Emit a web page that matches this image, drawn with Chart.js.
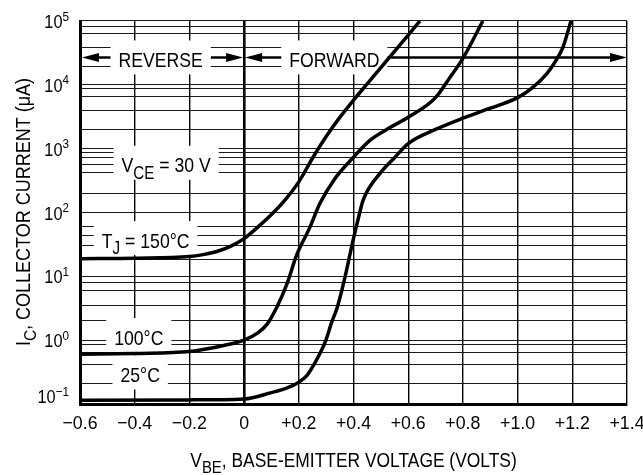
<!DOCTYPE html>
<html>
<head>
<meta charset="utf-8">
<script src="https://cdn.jsdelivr.net/npm/chart.js@4.4.1/dist/chart.umd.min.js"></script>
<style>
  html, body { margin: 0; padding: 0; background: #fff; }
  canvas { display: block; }
</style>
</head>
<body>
<canvas id="chartIC" width="643" height="475"></canvas>
<script>
const FONT = "'Liberation Sans', Arial, sans-serif"

// eje x (VBE, volts)
const xTicks      = [-0.6, -0.4, -0.2, 0, 0.2, 0.4, 0.6, 0.8, 1.0, 1.2, 1.4]
const xTickLabels = ['−0.6', '−0.4', '−0.2', '0', '+0.2', '+0.4', '+0.6', '+0.8', '+1.0', '+1.2', '+1.4']

// eje y (IC, uA) - log
const yDecades   = [0.1, 1, 10, 100, 1000, 10000, 100000]
const yExponents = ['−1', '0', '1', '2', '3', '4', '5']
const yGrid = [
  0.1, 0.21, 0.41, 0.63, 0.86,
  1, 2, 3.5, 6, 8,
  10, 18, 30, 43, 60,
  100, 200, 415, 570, 720, 880,
  1000, 2000, 4000, 6500, 8700,
  10000, 19000, 39000, 63000, 83000,
  100000,
]

// curvas
const vbe150 = [-0.6, -0.4, -0.2, -0.15, -0.1, -0.05, 0, 0.05, 0.1, 0.15, 0.2, 0.25, 0.3, 0.35, 0.4, 0.45, 0.5, 0.55, 0.6, 0.643]
const ic150  = [18.9, 19.2, 20.4, 21.9, 24.5, 29.5, 39, 59, 93, 158, 302, 708, 1550, 3090, 5750, 10350, 18600, 33500, 60300, 100000]

const vbe100 = [-0.6, -0.4, -0.2, -0.1, -0.05, 0, 0.05, 0.085, 0.12, 0.157, 0.193, 0.24, 0.277, 0.33, 0.398, 0.46, 0.53, 0.6, 0.7, 0.75, 0.8, 0.873]
const ic100  = [0.6, 0.62, 0.665, 0.78, 0.87, 1.0, 1.3, 1.8, 3.3, 7.7, 22, 58, 138, 330, 720, 1350, 2100, 3100, 6300, 12600, 26000, 100000]

const vbe25 = [-0.6, -0.2, 0, 0.1, 0.15, 0.2, 0.23, 0.26, 0.28, 0.3, 0.32, 0.34, 0.37, 0.398, 0.42, 0.435, 0.497, 0.55, 0.6, 0.7, 0.8, 0.9, 1.0, 1.05, 1.107, 1.14, 1.166, 1.195]
const ic25  = [0.115, 0.116, 0.12, 0.151, 0.174, 0.219, 0.28, 0.45, 0.65, 1.02, 1.9, 3.2, 10.2, 36, 89, 155, 410, 720, 1200, 2000, 3000, 4300, 6300, 8700, 15000, 24000, 39000, 100000]

const toPts = (xs, ys) => xs.map((x, i) => ({ x, y: ys[i] }))

// texto con subindices y compresion horizontal
function partFont(p, size) { return `${p.sub ? size * 0.86 : size}px ${FONT}` }

function measure(ctx, parts, size, sx) {
  let w = 0
  parts.forEach(p => { ctx.font = partFont(p, size); p.w = ctx.measureText(p.t).width * sx; w += p.w })
  return w
}

function rich(ctx, parts, size, x, y, align, sx = 1) {
  const w = measure(ctx, parts, size, sx)
  let cx = align === 'center' ? x - w / 2 : align === 'right' ? x - w : x
  parts.forEach(p => {
    ctx.save()
    ctx.font = partFont(p, size)
    ctx.translate(cx, y + (p.sub ? size * 0.3 : 0))
    ctx.scale(sx, 1)
    ctx.fillText(p.t, 0, 0)
    ctx.restore()
    cx += p.w
  })
  return w
}

function arrowHead(ctx, tipX, y, dir) {
  ctx.beginPath()
  ctx.moveTo(tipX, y)
  ctx.lineTo(tipX - dir * 17, y - 4.5)
  ctx.lineTo(tipX - dir * 17, y + 4.5)
  ctx.closePath()
  ctx.fill()
}

const ANN = 21, ANN_SX = 0.84
const notas = [
  { parts: [{ t: 'REVERSE' }], x: -0.305, y: 25000 },
  { parts: [{ t: 'FORWARD' }], x: 0.33, y: 25000 },
  { parts: [{ t: 'V' }, { t: 'CE', sub: true }, { t: ' = 30 V' }], x: -0.285, y: 560 },
  { parts: [{ t: 'T' }, { t: 'J', sub: true }, { t: ' = 150°C' }], x: -0.36, y: 37 },
  { parts: [{ t: '100°C' }], x: -0.385, y: 1.12 },
  { parts: [{ t: '25°C' }], x: -0.38, y: 0.29 },
]

const textos = {
  id: 'textos',
  beforeDatasetsDraw(chart) {
    const { ctx, scales: { x, y } } = chart
    ctx.save()
    ctx.textBaseline = 'alphabetic'
    const cajas = []
    notas.forEach(n => {
      const w = measure(ctx, n.parts, ANN, ANN_SX)
      const cx = x.getPixelForValue(n.x)
      const cy = y.getPixelForValue(n.y)
      const b = { l: cx - w / 2 - 8, r: cx + w / 2 + 8, t: cy - 19, bt: cy + 15 }
      ctx.fillStyle = '#fff'
      ctx.fillRect(b.l, b.t, b.r - b.l, b.bt - b.t)
      cajas.push(b)
    })
    // flechas reverse / forward
    const ay = Math.round(y.getPixelForValue(27000)) + 0.5
    const x0 = x.getPixelForValue(-0.6), xz = x.getPixelForValue(0), x1 = x.getPixelForValue(1.4)
    ctx.strokeStyle = '#000'
    ctx.fillStyle = '#000'
    ctx.lineWidth = 2.4
    ctx.beginPath()
    ctx.moveTo(x0 + 10, ay); ctx.lineTo(cajas[0].l, ay)
    ctx.moveTo(cajas[0].r, ay); ctx.lineTo(xz - 10, ay)
    ctx.moveTo(xz + 10, ay); ctx.lineTo(cajas[1].l, ay)
    ctx.moveTo(cajas[1].r, ay); ctx.lineTo(x1 - 10, ay)
    ctx.stroke()
    arrowHead(ctx, x0 + 2, ay, -1)
    arrowHead(ctx, xz - 1, ay, 1)
    arrowHead(ctx, xz + 1, ay, -1)
    arrowHead(ctx, x1, ay, 1)
    notas.forEach(n => {
      const cx = x.getPixelForValue(n.x)
      const cy = y.getPixelForValue(n.y)
      rich(ctx, n.parts, ANN, cx, cy + 7.5, 'center', ANN_SX)
    })
    ctx.restore()
  },
  afterDraw(chart) {
    const { ctx, scales: { x, y } } = chart
    ctx.save()
    ctx.fillStyle = '#000'
    ctx.textBaseline = 'alphabetic'
    // ticks x
    xTicks.forEach((v, i) => rich(ctx, [{ t: xTickLabels[i] }], 18.5, x.getPixelForValue(v), 428.5, 'center', 0.96))
    // ticks y (10^n)
    yDecades.forEach((v, i) => {
      let py = y.getPixelForValue(v)
      if (i === 0) py -= 8
      const ew = rich(ctx, [{ t: yExponents[i] }], 13, 69, py - 0.5, 'right', 0.9)
      rich(ctx, [{ t: '10' }], 19, 69 - ew, py + 7, 'right', 0.86)
    })
    // titulo x
    rich(ctx, [{ t: 'V' }, { t: 'BE', sub: true }, { t: ', BASE-EMITTER VOLTAGE (VOLTS)' }], 20, (chart.chartArea.left + chart.chartArea.right) / 2, 466.5, 'center', 0.87)
    // titulo y
    ctx.translate(30, 212)
    ctx.rotate(-Math.PI / 2)
    rich(ctx, [{ t: 'I' }, { t: 'C', sub: true }, { t: ', COLLECTOR CURRENT (μA)' }], 20, 0, 0, 'center', 0.9)
    ctx.restore()
  },
}

const estilo = { borderColor: '#000', borderWidth: 3.5, pointRadius: 0, fill: false, cubicInterpolationMode: 'monotone' }

new Chart(document.getElementById('chartIC'), {
  type: 'line',
  data: {
    datasets: [
      { label: 'TJ = 150°C', data: toPts(vbe150, ic150), ...estilo },
      { label: '100°C',      data: toPts(vbe100, ic100), ...estilo },
      { label: '25°C',       data: toPts(vbe25, ic25),   ...estilo },
    ],
  },
  options: {
    responsive: false, animation: false,
    layout: { padding: { left: 80, right: 16, top: 21, bottom: 71 } },
    plugins: { legend: { display: false }, tooltip: { enabled: false } },
    scales: {
      x: {
        type: 'linear', min: -0.6, max: 1.4,
        afterBuildTicks: s => { s.ticks = xTicks.map(v => ({ value: v })) },
        ticks: { display: false },
        grid: { color: '#000', lineWidth: c => (c.tick && c.tick.value === 0 ? 2.6 : 1.4), drawTicks: false },
        border: { display: true, width: 3, color: '#000' },
      },
      y: {
        type: 'logarithmic', min: 0.1, max: 100000,
        afterBuildTicks: s => { s.ticks = yGrid.map(v => ({ value: v })) },
        ticks: { display: false },
        grid: { color: '#1a1a1a', lineWidth: 1.1, drawTicks: false },
        border: { display: true, width: 3, color: '#000' },
      },
    },
  },
  plugins: [textos],
})
</script>
</body>
</html>
